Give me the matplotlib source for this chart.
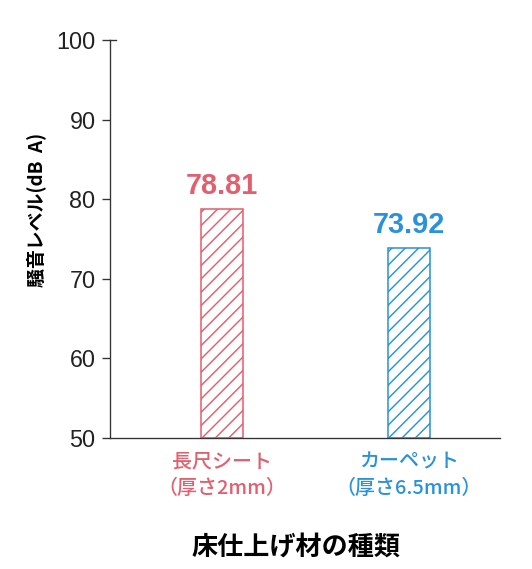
import numpy as np
import matplotlib
matplotlib.use('Agg')
import matplotlib.pyplot as plt

# data
categories = ['長尺シート\n（厚さ2mm）', 'カーペット\n（厚さ6.5mm）']
values = [78.81, 73.92]
colors = ['#e0606f', '#2a92d8']
y_ticks = [50, 60, 70, 80, 90, 100]

plt.rcParams['font.family'] = ['Liberation Sans', 'Noto Sans CJK JP', 'DejaVu Sans']
plt.rcParams['hatch.linewidth'] = 1.3

DPI = 80
fig = plt.figure(figsize=(532 / DPI, 569 / DPI), dpi=DPI)
ax = fig.add_axes([110 / 532, 1 - 438 / 569, 390 / 532, 398 / 569])

x = np.arange(len(values))
bars = ax.bar(x, [v - 50 for v in values], bottom=50, width=0.2246,
              facecolor='white', edgecolor=colors, hatch='//', linewidth=1.4)

# value labels on top of the bars
for xi, v, c in zip(x, values, colors):
    ax.annotate(f'{v:.2f}', (xi, v), xytext=(0, 8), textcoords='offset points',
                ha='center', va='bottom', fontsize=26, fontweight='bold', color=c,
                family=['Liberation Sans', 'DejaVu Sans'])

ax.set_xlim(-0.599, 1.487)
ax.set_ylim(50, 100)
ax.set_yticks(y_ticks)
ax.tick_params(axis='y', direction='out', length=7, width=1.2, color='#333333',
               labelsize=21, pad=6)
for lab in ax.get_yticklabels():
    lab.set_family(['Liberation Sans', 'DejaVu Sans'])
    lab.set_color('#222222')

ax.set_xticks(x)
ax.set_xticklabels(categories, fontsize=18, linespacing=1.5, fontweight='medium',
                   family=['Noto Sans CJK JP', 'DejaVu Sans'])
ax.tick_params(axis='x', length=0, pad=13)
for lab, c in zip(ax.get_xticklabels(), colors):
    lab.set_color(c)

for side in ['top', 'right']:
    ax.spines[side].set_visible(False)
for side in ['left', 'bottom']:
    ax.spines[side].set_color('#333333')
    ax.spines[side].set_linewidth(1.2)

# small stub at the top of the y axis
ax.plot([0, 0.015], [1, 1], transform=ax.transAxes, color='#333333',
        lw=1.2, clip_on=False)

ax.set_ylabel('騒音レベル(dB  A)', fontsize=17, fontweight='bold',
              family=['Noto Sans CJK JP', 'DejaVu Sans'])
ax.yaxis.label.set_va('center')
ax.yaxis.set_label_coords(-0.19, 0.573)
ax.set_xlabel('床仕上げ材の種類', fontsize=23.5, fontweight='bold',
              family=['Noto Sans CJK JP', 'DejaVu Sans'])
ax.xaxis.set_label_coords(0.477, -0.24)

fig.savefig('out.png', dpi=DPI, facecolor='white')
